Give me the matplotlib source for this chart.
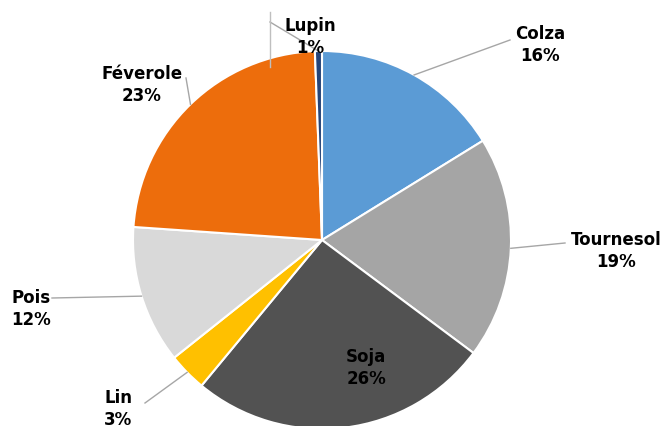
import numpy as np
import matplotlib
matplotlib.use('Agg')
import matplotlib.pyplot as plt

# données (parts en %)
cultures = ['Colza', 'Tournesol', 'Soja', 'Lin', 'Pois', 'Féverole', 'Lupin']
parts = [16.2, 19.0, 25.8, 3.3, 11.8, 23.3, 0.6]
couleurs = ['#5B9BD5', '#A5A5A5', '#525252', '#FFC000', '#D9D9D9', '#ED6D0C', '#264478']

# position des étiquettes (pixels, origine en haut à gauche)
pos_etiq = {
    'Colza': (540, 45),
    'Tournesol': (616, 251),
    'Soja': (366, 368),
    'Lin': (118, 409),
    'Pois': (31, 309),
    'Féverole': (142, 85),
    'Lupin': (310, 37),
}
# extrémité du trait de rappel côté texte
fin_trait = {
    'Colza': (510, 40),
    'Tournesol': (565, 243),
    'Lin': (145, 403),
    'Pois': (52, 298),
    'Féverole': (186, 78),
    'Lupin': (270, 22),
}

W, H = 666, 426
fig = plt.figure(figsize=(W / 100, H / 100), dpi=100)
ax = fig.add_axes([0, 0, 1, 1])

cx, cy, r = 322, H - 240, 189
wedges, _ = ax.pie(parts, colors=couleurs, startangle=90, counterclock=False,
                   center=(cx, cy), radius=r, frame=True,
                   wedgeprops=dict(edgecolor='white', linewidth=1.5))
ax.set_xlim(0, W)
ax.set_ylim(0, H)
ax.set_aspect('equal')
ax.axis('off')

for w, nom, p in zip(wedges, cultures, parts):
    tx, ty = pos_etiq[nom]
    ax.text(tx, H - ty, f'{nom}\n{round(p):.0f}%', ha='center', va='center',
            fontsize=12, fontweight='bold', family='DejaVu Sans', linespacing=1.25,
            color='black', zorder=5)
    if nom in fin_trait:
        a = np.deg2rad((w.theta1 + w.theta2) / 2)
        ex, ey = cx + r * np.cos(a), cy + r * np.sin(a)
        fx, fy = fin_trait[nom]
        ax.plot([ex, fx], [ey, H - fy], color='#A6A6A6', lw=1, zorder=4)

# petit trait vertical près de Lupin
ax.plot([270, 270], [H - 12, H - 67], color='#BFBFBF', lw=1, zorder=4)

fig.savefig('out.png', dpi=100)
